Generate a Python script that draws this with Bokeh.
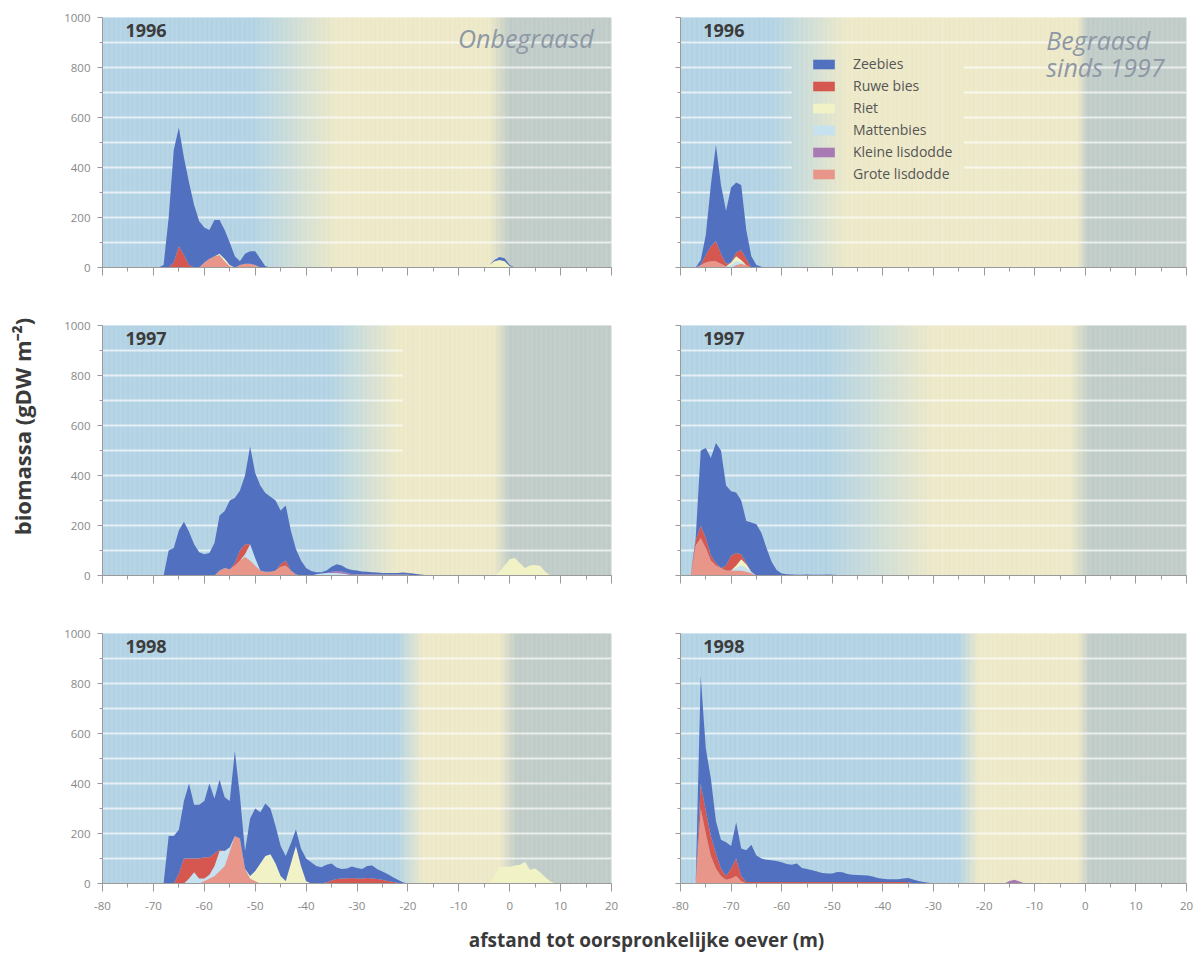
import numpy as np
from bokeh.plotting import figure
from bokeh.models import (Range1d, SingleIntervalTicker, ColumnDataSource, Label,
                          Legend, LegendItem)
from bokeh.layouts import column, row
from bokeh.embed import file_html
from bokeh.resources import INLINE
from bokeh.core.properties import value

FONT = "Open Sans"

# ---------------------------------------------------------------- data
SPECIES = ["Zeebies", "Ruwe bies", "Riet", "Mattenbies", "Kleine lisdodde", "Grote lisdodde"]
SPECIES_KEYS = ["zeebies", "ruwe", "riet", "matten", "kleine", "grote"]
SPECIES_COLORS = ["#5170c0", "#d5574f", "#f1f3c6", "#c6e1ef", "#a77ab4", "#e9968a"]
STACK_ORDER = ["grote", "matten", "kleine", "riet", "ruwe", "zeebies"]

YEARS = ["1996", "1997", "1998"]
X_TICKS = [-80, -70, -60, -50, -40, -30, -20, -10, 0, 10, 20]
X_TICK_LABELS = ["-80", "-70", "-60", "-50", "-40", "-30", "-20", "-10", "0", "10", "20"]
Y_TICKS = [0, 200, 400, 600, 800, 1000]
Y_TITLE = "biomassa (gDW m\u207b\u00b2)"
X_TITLE = "afstand tot oorspronkelijke oever (m)"

# --- Onbegraasd 1996
X_ON96 = [-69, -68, -67, -66, -65, -64, -63, -62, -61, -60,
          -59, -58, -57, -56, -55, -54, -53, -52, -51, -50,
          -49, -48, -47, -5, -4, -3, -2, -1, 0, 1]
ZEEBIES_ON96 = [0, 10, 200, 450, 475, 390, 330, 250, 185, 140,
                115, 145, 135, 115, 90, 45, 15, 40, 50, 55,
                35, 5, 0, 0, 0, 5, 12, 12, 5, 0]
RUWE_ON96 = [0, 0, 0, 20, 85, 50, 10, 0, 0, 0,
             0, 0, 0, 0, 0, 0, 0, 0, 0, 0,
             0, 0, 0, 0, 0, 0, 0, 0, 0, 0]
RIET_ON96 = [0, 0, 0, 0, 0, 0, 0, 0, 0, 0,
             0, 0, 5, 10, 5, 0, 0, 0, 0, 0,
             0, 0, 0, 0, 10, 25, 30, 25, 5, 0]
GROTE_ON96 = [0, 0, 0, 0, 0, 0, 0, 0, 0, 20,
              35, 45, 50, 25, 5, 0, 10, 15, 15, 10,
              0, 0, 0, 0, 0, 0, 0, 0, 0, 0]

# --- Begraasd 1996
X_GR96 = [-78, -77, -76, -75, -74, -73, -72, -71, -70, -69, -68, -67, -66, -65, -64, -63]
ZEEBIES_GR96 = [0, 0, 20, 80, 245, 385, 275, 212, 300, 280, 260, 115, 45, 10, 3, 0]
RUWE_GR96 = [0, 0, 0, 30, 60, 80, 40, 10, 0, 15, 40, 25, 0, 0, 0, 0]
RIET_GR96 = [0, 0, 0, 0, 0, 0, 0, 0, 10, 20, 10, 0, 0, 0, 0, 0]
MATTEN_GR96 = [0, 0, 0, 0, 0, 0, 0, 0, 10, 15, 5, 0, 0, 0, 0, 0]
GROTE_GR96 = [0, 0, 10, 20, 25, 25, 15, 5, 0, 10, 15, 10, 0, 0, 0, 0]

# --- Onbegraasd 1997
X_ON97 = [-69, -68, -67, -66, -65, -64, -63, -62, -61, -60,
          -59, -58, -57, -56, -55, -54, -53, -52, -51, -50,
          -49, -48, -47, -46, -45, -44, -43, -42, -41, -40,
          -39, -38, -37, -36, -35, -34, -33, -32, -31, -30,
          -29, -28, -27, -26, -25, -24, -23, -22, -21, -20,
          -19, -18, -17, -16,
          -3, -2, -1, 0, 1, 2, 3, 4, 5, 6, 7, 8]
ZEEBIES_ON97 = [0, 0, 100, 110, 180, 215, 175, 125, 93, 85,
                90, 130, 220, 228, 275, 260, 240, 275, 391, 340,
                340, 315, 300, 280, 215, 220, 160, 101, 60, 30,
                18, 8, 5, 10, 20, 27, 24, 17, 17, 15,
                11, 10, 8, 8, 6, 6, 6, 6, 8, 6,
                8, 5, 3, 0,
                0, 0, 0, 0, 0, 0, 0, 0, 0, 0, 0, 0]
RUWE_ON97 = [0, 0, 0, 0, 0, 0, 0, 0, 0, 0,
             0, 0, 0, 0, 0, 10, 40, 40, 0, 0,
             0, 0, 0, 0, 10, 20, 0, 0, 0, 0,
             0, 0, 0, 0, 0, 0, 0, 0, 0, 0,
             0, 0, 0, 0, 0, 0, 0, 0, 0, 0,
             0, 0, 0, 0,
             0, 0, 0, 0, 0, 0, 0, 0, 0, 0, 0, 0]
RIET_ON97 = [0, 0, 0, 0, 0, 0, 0, 0, 0, 0,
             0, 0, 0, 0, 0, 0, 0, 0, 0, 0,
             0, 0, 0, 0, 0, 0, 0, 0, 0, 0,
             0, 0, 0, 0, 0, 0, 0, 0, 0, 0,
             0, 0, 0, 0, 0, 0, 0, 0, 0, 0,
             0, 0, 0, 0,
             0, 15, 40, 65, 70, 50, 30, 40, 42, 38, 15, 0]
MATTEN_ON97 = [0, 0, 0, 0, 0, 0, 0, 0, 0, 0,
               0, 0, 0, 0, 0, 0, 0, 10, 65, 30,
               0, 0, 0, 0, 0, 0, 0, 0, 0, 0,
               0, 5, 8, 10, 10, 10, 8, 5, 0, 0,
               0, 0, 0, 0, 0, 0, 0, 0, 0, 0,
               0, 0, 0, 0,
               0, 0, 0, 0, 0, 0, 0, 0, 0, 0, 0, 0]
KLEINE_ON97 = [0, 0, 0, 0, 0, 0, 0, 0, 0, 0,
               0, 0, 0, 0, 0, 0, 0, 0, 0, 0,
               0, 0, 0, 0, 0, 0, 0, 0, 0, 0,
               0, 0, 0, 0, 5, 8, 8, 6, 5, 5,
               5, 5, 5, 4, 4, 4, 4, 4, 4, 4,
               0, 0, 0, 0,
               0, 0, 0, 0, 0, 0, 0, 0, 0, 0, 0, 0]
GROTE_ON97 = [0, 0, 0, 0, 0, 0, 0, 0, 0, 0,
              0, 0, 20, 30, 25, 40, 60, 75, 60, 40,
              20, 15, 15, 20, 35, 40, 20, 5, 0, 0,
              0, 0, 0, 0, 0, 0, 0, 0, 0, 0,
              0, 0, 0, 0, 0, 0, 0, 0, 0, 0,
              0, 0, 0, 0,
              0, 0, 0, 0, 0, 0, 0, 0, 0, 0, 0, 0]

# --- Begraasd 1997
X_GR97 = [-78, -77, -76, -75, -74, -73, -72, -71, -70, -69,
          -68, -67, -66, -65, -64, -63, -62, -61, -60, -59,
          -58, -57, -56, -55, -54, -53, -52, -51, -50, -49, -48]
ZEEBIES_GR97 = [0, 10, 300, 360, 390, 480, 470, 320, 257, 242,
                215, 168, 197, 205, 170, 110, 55, 22, 8, 5,
                4, 3, 3, 4, 3, 3, 3, 4, 3, 2, 0]
RUWE_GR97 = [0, 20, 50, 40, 20, 10, 0, 20, 60, 50,
             20, 5, 0, 0, 0, 0, 0, 0, 0, 0,
             0, 0, 0, 0, 0, 0, 0, 0, 0, 0, 0]
RIET_GR97 = [0, 0, 0, 0, 0, 0, 0, 0, 0, 10,
             25, 15, 0, 0, 0, 0, 0, 0, 0, 0,
             0, 0, 0, 0, 0, 0, 0, 0, 0, 0, 0]
MATTEN_GR97 = [0, 0, 0, 0, 0, 0, 0, 0, 0, 10,
               20, 15, 5, 0, 0, 0, 0, 0, 0, 0,
               0, 0, 0, 0, 0, 0, 0, 0, 0, 0, 0]
GROTE_GR97 = [0, 120, 150, 110, 60, 40, 30, 20, 20, 20,
              20, 15, 10, 0, 0, 0, 0, 0, 0, 0,
              0, 0, 0, 0, 0, 0, 0, 0, 0, 0, 0]

# --- Onbegraasd 1998
X_ON98 = [-69, -68, -67, -66, -65, -64, -63, -62, -61, -60,
          -59, -58, -57, -56, -55, -54, -53, -52, -51, -50,
          -49, -48, -47, -46, -45, -44, -43, -42, -41, -40,
          -39, -38, -37, -36, -35, -34, -33, -32, -31, -30,
          -29, -28, -27, -26, -25, -24, -23, -22, -21, -20,
          -4, -3, -2, -1, 0, 1, 2, 3, 4, 5, 6, 7, 8, 9]
ZEEBIES_ON98 = [0, 0, 190, 190, 175, 230, 300, 215, 215, 225,
                295, 220, 280, 215, 185, 340, 170, 70, 230, 250,
                205, 210, 183, 150, 120, 100, 80, 66, 70, 90,
                85, 70, 65, 70, 68, 46, 38, 40, 46, 42,
                38, 48, 52, 39, 33, 28, 19, 12, 5, 0,
                0, 0, 0, 0, 0, 0, 0, 0, 0, 0, 0, 0, 0, 0]
RUWE_ON98 = [0, 0, 0, 0, 40, 100, 80, 55, 80, 85,
             70, 50, 5, 0, 0, 0, 0, 0, 0, 0,
             0, 0, 0, 0, 0, 0, 0, 0, 0, 0,
             0, 0, 0, 5, 12, 18, 20, 20, 22, 20,
             20, 22, 20, 18, 15, 10, 7, 3, 0, 0,
             0, 0, 0, 0, 0, 0, 0, 0, 0, 0, 0, 0, 0, 0]
RIET_ON98 = [0, 0, 0, 0, 0, 0, 0, 0, 0, 0,
             0, 0, 0, 0, 0, 0, 0, 0, 10, 40,
             80, 110, 117, 80, 30, 10, 80, 150, 70, 10,
             0, 0, 0, 0, 0, 0, 0, 0, 0, 0,
             0, 0, 0, 0, 0, 0, 0, 0, 0, 0,
             0, 30, 65, 67, 67, 72, 75, 87, 55, 60, 45, 25, 8, 0]
MATTEN_ON98 = [0, 0, 0, 0, 0, 0, 20, 45, 20, 10,
               15, 40, 80, 60, 15, 0, 0, 0, 0, 0,
               0, 0, 0, 0, 0, 0, 0, 0, 0, 0,
               0, 0, 0, 0, 0, 0, 0, 0, 0, 0,
               0, 0, 0, 0, 0, 0, 0, 0, 0, 0,
               0, 0, 0, 0, 0, 0, 0, 0, 0, 0, 0, 0, 0, 0]
GROTE_ON98 = [0, 0, 0, 0, 0, 0, 0, 0, 0, 10,
              20, 30, 50, 70, 130, 190, 180, 60, 20, 10,
              0, 0, 0, 0, 0, 0, 0, 0, 0, 0,
              0, 0, 0, 0, 0, 0, 0, 0, 0, 0,
              0, 0, 0, 0, 0, 0, 0, 0, 0, 0,
              0, 0, 0, 0, 0, 0, 0, 0, 0, 0, 0, 0, 0, 0]

# --- Begraasd 1998
X_GR98 = [-78, -77, -76, -75, -74, -73, -72, -71, -70, -69,
          -68, -67, -66, -65, -64, -63, -62, -61, -60, -59,
          -58, -57, -56, -55, -54, -53, -52, -51, -50, -49,
          -48, -47, -46, -45, -44, -43, -42, -41, -40, -39,
          -38, -37, -36, -35, -34, -33, -32, -31, -30,
          -16, -15, -14, -13, -12, -9, -8, -7]
ZEEBIES_GR98 = [0, 0, 430, 250, 230, 130, 115, 135, 90, 145,
                110, 127, 149, 106, 94, 89, 87, 84, 79, 72,
                69, 74, 56, 52, 47, 42, 36, 34, 34, 40,
                39, 32, 29, 28, 27, 26, 22, 16, 13, 11,
                11, 11, 14, 16, 16, 10, 6, 3, 0,
                0, 0, 0, 0, 0, 0, 0, 0]
RUWE_GR98 = [0, 0, 100, 90, 80, 60, 30, 15, 40, 70,
             20, 6, 6, 6, 6, 6, 6, 6, 6, 6,
             6, 6, 6, 6, 6, 6, 6, 6, 6, 6,
             6, 6, 6, 6, 6, 6, 6, 6, 6, 6,
             6, 6, 6, 6, 0, 0, 0, 0, 0,
             0, 0, 0, 0, 0, 0, 0, 0]
RIET_GR98 = [0, 0, 0, 0, 0, 0, 0, 0, 0, 0,
             0, 0, 0, 0, 0, 0, 0, 0, 0, 0,
             0, 0, 0, 0, 0, 0, 0, 0, 0, 0,
             0, 0, 0, 0, 0, 0, 0, 0, 0, 0,
             0, 0, 0, 0, 0, 0, 0, 0, 0,
             0, 0, 0, 0, 0, 0, 10, 0]
KLEINE_GR98 = [0, 0, 0, 0, 0, 0, 0, 0, 0, 0,
               0, 0, 0, 0, 0, 0, 0, 0, 0, 0,
               0, 0, 0, 0, 0, 0, 0, 0, 0, 0,
               0, 0, 0, 0, 0, 0, 0, 0, 0, 0,
               0, 0, 0, 0, 0, 0, 0, 0, 0,
               0, 10, 15, 8, 0, 0, 0, 0]
GROTE_GR98 = [0, 0, 300, 200, 110, 60, 30, 15, 20, 30,
              10, 0, 0, 0, 0, 0, 0, 0, 0, 0,
              0, 0, 0, 0, 0, 0, 0, 0, 0, 0,
              0, 0, 0, 0, 0, 0, 0, 0, 0, 0,
              0, 0, 0, 0, 0, 0, 0, 0, 0,
              0, 0, 0, 0, 0, 0, 0, 0]

# background vegetation zones per panel: blue end, yellow start, yellow end, grey start (m)
ZONES_ON96 = (-50, -34, -4, 0)
ZONES_GR96 = (-62, -47, -1.5, 0.5)
ZONES_ON97 = (-35, -22, -3, 0)
ZONES_GR97 = (-51, -30, -3, 1)
ZONES_ON98 = (-22, -17, -2, 1.5)
ZONES_GR98 = (-25, -21, -1.5, 1)

# gaps in the white guide lines seen in the print: (lowest line, highest line, from x, to x)
GAPS_GR96 = [(400, 800, -58, -24)]
GAPS_ON97 = [(500, 900, -21, 20)]

# ---------------------------------------------------------------- styling
BLUE = np.array([179, 211, 228])
YELLOW = np.array([237, 233, 200])
GREY = np.array([192, 204, 200])
AXIS_COLOR = "#9a9a9a"
TICK_LABEL_COLOR = "#888888"

YLAB_W = 40
FRAME_H = 250
LEFT_W = (62, 509, 10)     # border left, frame, border right
RIGHT_W = (59, 506, 10)
ROW_H = [(17, 28), (30, 28), (30, 32)]   # border top, border bottom
XLAB_H = 40


def hexcol(c):
    c = np.clip(np.round(c), 0, 255).astype(int)
    return "#%02x%02x%02x" % tuple(c)


def bg_color(x, zones):
    be, ys, ye, gs = zones
    if x <= be:
        return hexcol(BLUE)
    if x < ys:
        t = (x - be) / (ys - be)
        return hexcol(BLUE + (YELLOW - BLUE) * t)
    if x <= ye:
        return hexcol(YELLOW)
    if x < gs:
        t = (x - ye) / (gs - ye)
        return hexcol(YELLOW + (GREY - YELLOW) * t)
    return hexcol(GREY)


def guide_segments(gaps):
    x0, x1, ys = [], [], []
    for gy in range(100, 1000, 100):
        pieces = [(-80.0, 20.0)]
        for (lo, hi, ga, gb) in gaps:
            if lo <= gy <= hi:
                new = []
                for a, b in pieces:
                    if gb <= a or ga >= b:
                        new.append((a, b))
                    else:
                        if ga > a:
                            new.append((a, ga))
                        if gb < b:
                            new.append((gb, b))
                pieces = new
        for a, b in pieces:
            x0.append(a)
            x1.append(b)
            ys.append(gy)
    return x0, x1, ys


def make_panel(data, zones, year, col, rowi, label=None, legend=False, gaps=()):
    bl, fw, br = LEFT_W if col == 0 else RIGHT_W
    bt, bb = ROW_H[rowi]
    p = figure(width=bl + fw + br, height=bt + FRAME_H + bb,
               x_range=Range1d(-80, 20), y_range=Range1d(0, 1000),
               output_backend="svg", toolbar_location=None,
               min_border_left=bl, min_border_right=br,
               min_border_top=bt, min_border_bottom=bb)
    p.grid.visible = False
    p.outline_line_color = None
    p.background_fill_color = "white"
    p.border_fill_color = "white"

    # gradient background
    step = 0.25
    edges = np.arange(-80, 20 + step / 2, step)
    mids = (edges[:-1] + edges[1:]) / 2
    cols = [bg_color(m, zones) for m in mids]
    bg = ColumnDataSource(dict(l=edges[:-1], r=edges[1:] + 0.02, c=cols))
    p.quad(left="l", right="r", bottom=0, top=1000, fill_color="c",
           line_color="c", line_width=0.5, source=bg)

    # white horizontal lines
    x0, x1, gy = guide_segments(gaps)
    p.segment(x0=x0, x1=x1, y0=gy, y1=gy,
              line_color="white", line_alpha=0.65, line_width=2)

    # stacked areas
    n = len(data["x"])
    cd = {"x": data["x"]}
    for k in SPECIES_KEYS:
        cd[k] = data.get(k, [0] * n)
    src = ColumnDataSource(cd)
    cmap = dict(zip(SPECIES_KEYS, SPECIES_COLORS))
    rends = p.varea_stack(stackers=STACK_ORDER, x="x",
                          color=[cmap[k] for k in STACK_ORDER], source=src)
    rmap = dict(zip(STACK_ORDER, rends))

    # axes
    p.xaxis.ticker = SingleIntervalTicker(interval=10, num_minor_ticks=2)
    p.yaxis.ticker = SingleIntervalTicker(interval=200, num_minor_ticks=2)
    for ax in p.axis:
        ax.axis_line_color = AXIS_COLOR
        ax.major_tick_line_color = AXIS_COLOR
        ax.minor_tick_line_color = AXIS_COLOR
        ax.major_tick_in = 0
        ax.minor_tick_in = 0
        ax.major_label_text_font = FONT
        ax.major_label_text_font_size = "11.5px"
        ax.major_label_text_color = TICK_LABEL_COLOR
    p.xaxis.major_tick_out = 8
    p.xaxis.minor_tick_out = 4
    p.yaxis.major_tick_out = 5
    p.yaxis.minor_tick_out = 3
    p.xaxis.major_label_standoff = 10
    p.yaxis.major_label_standoff = 7
    if rowi == 2:
        p.xaxis.major_label_overrides = dict(zip(X_TICKS, X_TICK_LABELS))
    else:
        p.xaxis.major_label_overrides = {t: "" for t in X_TICKS}
    if col != 0:
        p.yaxis.major_label_overrides = {t: "" for t in Y_TICKS}

    p.add_layout(Label(x=-75.5, y=947, text=year, text_font=FONT, text_font_size="18px",
                       text_font_style="bold", text_color="#3c3c3c",
                       text_baseline="middle", text_align="left"))
    if label is not None:
        for (txt, lx, ly, al) in label:
            p.add_layout(Label(x=lx, y=ly, text=txt, text_font=FONT, text_font_size="25px",
                               text_font_style="italic", text_color="#8e98a5",
                               text_baseline="middle", text_align=al))
    if legend:
        items = [LegendItem(label=s, renderers=[rmap[k]]) for s, k in zip(SPECIES, SPECIES_KEYS)]
        lg = Legend(items=items, location=(130, 84), orientation="vertical",
                    glyph_width=27, glyph_height=12, label_height=12, spacing=3,
                    label_standoff=16, padding=0, margin=0,
                    border_line_color=None, background_fill_alpha=0,
                    label_text_font=FONT, label_text_font_size="14px",
                    label_text_color="#555555")
        p.add_layout(lg)
    return p


panels_data = {
    "on96": dict(x=X_ON96, zeebies=ZEEBIES_ON96, ruwe=RUWE_ON96, riet=RIET_ON96, grote=GROTE_ON96),
    "gr96": dict(x=X_GR96, zeebies=ZEEBIES_GR96, ruwe=RUWE_GR96, riet=RIET_GR96,
                 matten=MATTEN_GR96, grote=GROTE_GR96),
    "on97": dict(x=X_ON97, zeebies=ZEEBIES_ON97, ruwe=RUWE_ON97, riet=RIET_ON97,
                 matten=MATTEN_ON97, kleine=KLEINE_ON97, grote=GROTE_ON97),
    "gr97": dict(x=X_GR97, zeebies=ZEEBIES_GR97, ruwe=RUWE_GR97, riet=RIET_GR97,
                 matten=MATTEN_GR97, grote=GROTE_GR97),
    "on98": dict(x=X_ON98, zeebies=ZEEBIES_ON98, ruwe=RUWE_ON98, riet=RIET_ON98,
                 matten=MATTEN_ON98, grote=GROTE_ON98),
    "gr98": dict(x=X_GR98, zeebies=ZEEBIES_GR98, ruwe=RUWE_GR98, riet=RIET_GR98,
                 kleine=KLEINE_GR98, grote=GROTE_GR98),
}

p1 = make_panel(panels_data["on96"], ZONES_ON96, YEARS[0], 0, 0,
                label=[("Onbegraasd", 16.5, 920, "right")])
p2 = make_panel(panels_data["gr96"], ZONES_GR96, YEARS[0], 1, 0,
                label=[("Begraasd", -7.7, 912, "left"), ("sinds 1997", -7.7, 802, "left")],
                legend=True, gaps=GAPS_GR96)
p3 = make_panel(panels_data["on97"], ZONES_ON97, YEARS[1], 0, 1, gaps=GAPS_ON97)
p4 = make_panel(panels_data["gr97"], ZONES_GR97, YEARS[1], 1, 1)
p5 = make_panel(panels_data["on98"], ZONES_ON98, YEARS[2], 0, 2)
p6 = make_panel(panels_data["gr98"], ZONES_GR98, YEARS[2], 1, 2)

GRID_W = sum(LEFT_W) + sum(RIGHT_W)
GRID_H = sum(bt + FRAME_H + bb for bt, bb in ROW_H) + XLAB_H

# x-axis title strip
xlab = figure(width=GRID_W, height=XLAB_H, x_range=Range1d(0, GRID_W), y_range=Range1d(0, XLAB_H),
              x_axis_location=None, y_axis_location=None, output_backend="svg",
              toolbar_location=None, min_border=0)
xlab.grid.visible = False
xlab.outline_line_color = None
xlab.text(x=[646 - YLAB_W], y=[16], text=[X_TITLE],
          text_font=value(FONT), text_font_style="bold", text_font_size=value("19px"),
          text_color="#3a3a3a", text_align="center", text_baseline="middle")

# y-axis title strip
ylab = figure(width=YLAB_W, height=GRID_H, x_range=Range1d(0, YLAB_W), y_range=Range1d(0, GRID_H),
              x_axis_location=None, y_axis_location=None, output_backend="svg",
              toolbar_location=None, min_border=0)
ylab.grid.visible = False
ylab.outline_line_color = None
ylab.text(x=[21], y=[GRID_H - 426], text=[Y_TITLE], angle=np.pi / 2,
          text_font=value(FONT), text_font_style="bold", text_font_size=value("22px"),
          text_color="#3a3a3a", text_align="center", text_baseline="middle")

layout = row(ylab, column(row(p1, p2), row(p3, p4), row(p5, p6), xlab))
open("out.html", "w").write(file_html(layout, INLINE))
